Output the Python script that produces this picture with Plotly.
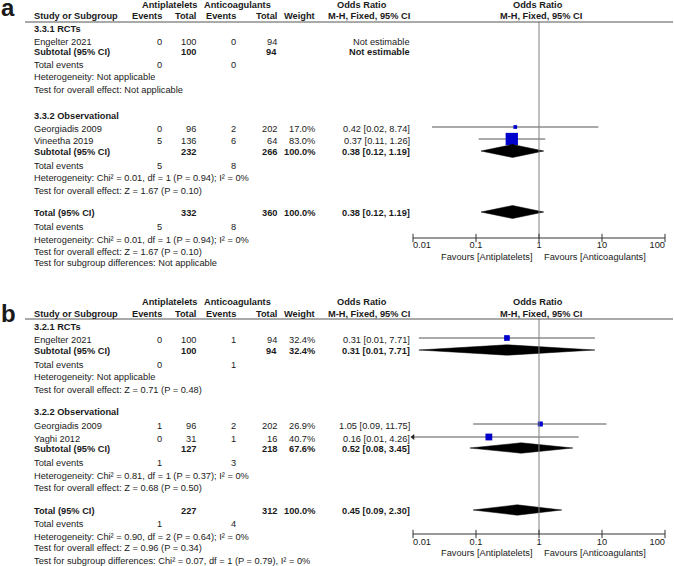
import plotly.graph_objects as go

W, H = 674, 566
FONT = "Liberation Sans, Arial, sans-serif"
TXT = "#1a1a1a"
BLUE = "#0000CC"
FS = 9.25

# ---------------- data: panel a ----------------
a_groups = ["3.3.1 RCTs", "3.3.2 Observational"]
a_studies = ["Engelter 2021", "Georgiadis 2009", "Vineetha 2019"]
a_study_group = [0, 1, 1]
a_ap_events = [0, 0, 5]
a_ap_total = [100, 96, 136]
a_ac_events = [0, 2, 6]
a_ac_total = [94, 202, 64]
a_weight = [None, 17.0, 83.0]
a_or = [None, 0.42, 0.37]
a_or_lo = [None, 0.02, 0.11]
a_or_hi = [None, 8.74, 1.26]
a_sub_ap_events = [0, 5]
a_sub_ap_total = [100, 232]
a_sub_ac_events = [0, 8]
a_sub_ac_total = [94, 266]
a_sub_weight = [None, 100.0]
a_sub_or = [None, 0.38]
a_sub_lo = [None, 0.12]
a_sub_hi = [None, 1.19]
a_sub_het = ["Heterogeneity: Not applicable",
             "Heterogeneity: Chi² = 0.01, df = 1 (P = 0.94); I² = 0%"]
a_sub_test = ["Test for overall effect: Not applicable",
              "Test for overall effect: Z = 1.67 (P = 0.10)"]
a_tot = [5, 332, 8, 360]          # ap events, ap total, ac events, ac total
a_tot_weight = 100.0
a_tot_or = [0.38, 0.12, 1.19]
a_tot_het = "Heterogeneity: Chi² = 0.01, df = 1 (P = 0.94); I² = 0%"
a_tot_test = "Test for overall effect: Z = 1.67 (P = 0.10)"
a_subgroup_test = "Test for subgroup differences: Not applicable"

# ---------------- data: panel b ----------------
b_groups = ["3.2.1 RCTs", "3.2.2 Observational"]
b_studies = ["Engelter 2021", "Georgiadis 2009", "Yaghi 2012"]
b_study_group = [0, 1, 1]
b_ap_events = [0, 1, 0]
b_ap_total = [100, 96, 31]
b_ac_events = [1, 2, 1]
b_ac_total = [94, 202, 16]
b_weight = [32.4, 26.9, 40.7]
b_or = [0.31, 1.05, 0.16]
b_or_lo = [0.0124, 0.09, 0.006]
b_or_hi = [7.71, 11.75, 4.26]
b_sub_ap_events = [0, 1]
b_sub_ap_total = [100, 127]
b_sub_ac_events = [1, 3]
b_sub_ac_total = [94, 218]
b_sub_weight = [32.4, 67.6]
b_sub_or = [0.31, 0.52]
b_sub_lo = [0.0124, 0.08]
b_sub_hi = [7.71, 3.45]
b_sub_het = ["Heterogeneity: Not applicable",
             "Heterogeneity: Chi² = 0.81, df = 1 (P = 0.37); I² = 0%"]
b_sub_test = ["Test for overall effect: Z = 0.71 (P = 0.48)",
              "Test for overall effect: Z = 0.68 (P = 0.50)"]
b_tot = [1, 227, 4, 312]
b_tot_weight = 100.0
b_tot_or = [0.45, 0.09, 2.30]
b_tot_het = "Heterogeneity: Chi² = 0.90, df = 2 (P = 0.64); I² = 0%"
b_tot_test = "Test for overall effect: Z = 0.96 (P = 0.34)"
b_subgroup_test = "Test for subgroup differences: Chi² = 0.07, df = 1 (P = 0.79), I² = 0%"

# ---------------- shared labels ----------------
tick_vals = [0.01, 0.1, 1, 10, 100]
tick_text = ["0.01", "0.1", "1", "10", "100"]
fav_left = "Favours [Antiplatelets]"
fav_right = "Favours [Anticoagulants]"
grp1, grp2, grp3 = "Antiplatelets", "Anticoagulants", "Odds Ratio"
col_heads = ["Study or Subgroup", "Events", "Total", "Events", "Total", "Weight", "M-H, Fixed, 95% CI"]

# ---------------- layout (pixel positions) ----------------
COL = dict(name=33, ap_ev=163, ap_tot=197, ac_ev=237, ac_tot=278, weight=316, orr=411)
POS_A = dict(label=7.5, hdr1=5, hdr2=16, rule=22, titles=[29, 116], studies=[42, 129, 141],
             subs=[51.5, 152], sub_ev=[64.5, 166], sub_het=[77, 178], sub_test=[90, 191],
             tot=213, tot_ev=227, tot_het=240, tot_test=252, tot_sg=263,
             axis=238, ticklab=246, fav=256.5, dh=6.5)
POS_B = dict(label=313, hdr1=302, hdr2=314, rule=319, titles=[327, 412], studies=[340, 426, 439],
             subs=[351, 449], sub_ev=[365, 463], sub_het=[377, 476], sub_test=[390, 488],
             tot=511, tot_ev=524, tot_het=537, tot_test=548, tot_sg=561,
             axis=534, ticklab=542.5, fav=552.5, dh=5.2)

fig = go.Figure()
ann = []
shapes = []


def txt(x, y, s, anchor="left", bold=False, size=FS):
    ann.append(dict(x=x / W, xref="paper", y=y, yref="y",
                    text=f"<b>{s}</b>" if bold else s, showarrow=False,
                    xanchor=anchor, yanchor="middle", borderpad=0,
                    font=dict(family=FONT, size=size, color=TXT)))


def fmt_or(o, lo, hi):
    if o is None:
        return "Not estimable"
    return f"{o:.2f} [{lo:.2f}, {hi:.2f}]"


def fmt_w(w):
    return "" if w is None else f"{w:.1f}%"


def diamond(o, lo, hi, y, h):
    fig.add_trace(go.Scatter(x=[lo, o, hi, o, lo], y=[y, y - h, y, y + h, y],
                             mode="lines", fill="toself", fillcolor="black",
                             line=dict(color="black", width=0.5), cliponaxis=False,
                             hoverinfo="skip"))


def panel(label, P, groups, studies, sgroup, ape, apt, ace, act, wt, orr, lo, hi,
          s_ape, s_apt, s_ace, s_act, s_w, s_or, s_lo, s_hi, s_het, s_test,
          tot, tot_w, tot_or, tot_het, tot_test, sg_test):
    txt(0, P["label"], label, bold=True, size=24)
    # headers
    txt(170, P["hdr1"], grp1, "center", True)
    txt(237.5, P["hdr1"], grp2, "center", True)
    txt(362, P["hdr1"], grp3, "center", True)
    txt(538, P["hdr1"], grp3, "center", True)
    heads_x = [COL["name"], COL["ap_ev"], COL["ap_tot"], COL["ac_ev"], COL["ac_tot"], COL["weight"]]
    for i, hx in enumerate(heads_x):
        txt(hx, P["hdr2"], col_heads[i], "left" if i == 0 else "right", True)
    txt(369, P["hdr2"], col_heads[6], "center", True)
    txt(541, P["hdr2"], col_heads[6], "center", True)
    shapes.append(dict(type="line", xref="paper", yref="y", x0=25 / W, x1=673 / W,
                       y0=P["rule"], y1=P["rule"], line=dict(color="#555", width=1)))
    # studies
    for i, s in enumerate(studies):
        y = P["studies"][i]
        txt(COL["name"], y, s)
        txt(COL["ap_ev"], y, str(ape[i]), "right")
        txt(COL["ap_tot"], y, str(apt[i]), "right")
        txt(COL["ac_ev"], y, str(ace[i]), "right")
        txt(COL["ac_tot"], y, str(act[i]), "right")
        txt(COL["weight"], y, fmt_w(wt[i]), "right")
        txt(COL["orr"], y, fmt_or(orr[i], lo[i], hi[i]), "right")
        if orr[i] is not None:
            ym = y - 2
            fig.add_trace(go.Scatter(x=[max(lo[i], tick_vals[0]), min(hi[i], tick_vals[-1])],
                                     y=[ym, ym], mode="lines",
                                     line=dict(color="#555", width=1), cliponaxis=False,
                                     hoverinfo="skip"))
            if lo[i] < tick_vals[0]:
                fig.add_trace(go.Scatter(x=[tick_vals[0]], y=[ym], mode="markers",
                                         marker=dict(symbol="triangle-left", size=5, color="#222"),
                                         cliponaxis=False, hoverinfo="skip"))
            fig.add_trace(go.Scatter(x=[orr[i]], y=[ym], mode="markers",
                                     marker=dict(symbol="square", size=1.5 + 0.13 * wt[i],
                                                 color=BLUE, line=dict(width=0)),
                                     cliponaxis=False, hoverinfo="skip"))
    # groups
    for g, title in enumerate(groups):
        txt(COL["name"], P["titles"][g], title, bold=True)
        y = P["subs"][g]
        txt(COL["name"], y, "Subtotal (95% CI)", bold=True)
        txt(COL["ap_tot"], y, str(s_apt[g]), "right", True)
        txt(COL["ac_tot"], y, str(s_act[g]), "right", True)
        txt(COL["weight"], y, fmt_w(s_w[g]), "right", True)
        txt(COL["orr"], y, fmt_or(s_or[g], s_lo[g], s_hi[g]), "right", True)
        if s_or[g] is not None:
            diamond(s_or[g], s_lo[g], s_hi[g], y - 1, P["dh"])
        ye = P["sub_ev"][g]
        txt(COL["name"], ye, "Total events")
        txt(COL["ap_ev"], ye, str(s_ape[g]), "right")
        txt(COL["ac_ev"], ye, str(s_ace[g]), "right")
        txt(COL["name"], P["sub_het"][g], s_het[g])
        txt(COL["name"], P["sub_test"][g], s_test[g])
    # total
    y = P["tot"]
    txt(COL["name"], y, "Total (95% CI)", bold=True)
    txt(COL["ap_tot"], y, str(tot[1]), "right", True)
    txt(COL["ac_tot"], y, str(tot[3]), "right", True)
    txt(COL["weight"], y, fmt_w(tot_w), "right", True)
    txt(COL["orr"], y, fmt_or(*tot_or), "right", True)
    diamond(tot_or[0], tot_or[1], tot_or[2], y - 1, P["dh"])
    txt(COL["name"], P["tot_ev"], "Total events")
    txt(COL["ap_ev"], P["tot_ev"], str(tot[0]), "right")
    txt(COL["ac_ev"], P["tot_ev"], str(tot[2]), "right")
    txt(COL["name"], P["tot_het"], tot_het)
    txt(COL["name"], P["tot_test"], tot_test)
    txt(COL["name"], P["tot_sg"], sg_test)
    # null line
    fig.add_trace(go.Scatter(x=[1, 1], y=[P["rule"], P["axis"]], mode="lines",
                             line=dict(color="#808080", width=1), hoverinfo="skip"))
    # axis line + ticks + labels
    fig.add_trace(go.Scatter(x=[tick_vals[0], tick_vals[-1]], y=[P["axis"], P["axis"]],
                             mode="lines", line=dict(color="#333", width=1),
                             cliponaxis=False, hoverinfo="skip"))
    fig.add_trace(go.Scatter(x=tick_vals, y=[P["axis"]] * len(tick_vals), mode="markers",
                             marker=dict(symbol="line-ns", size=6,
                                         line=dict(color="#333", width=1)),
                             cliponaxis=False, hoverinfo="skip"))
    pos = ["middle right"] + ["middle center"] * (len(tick_vals) - 2) + ["middle left"]
    fig.add_trace(go.Scatter(x=tick_vals, y=[P["ticklab"]] * len(tick_vals), mode="text",
                             text=tick_text, textposition=pos,
                             textfont=dict(family=FONT, size=FS, color=TXT),
                             cliponaxis=False, hoverinfo="skip"))
    ann.append(dict(x=0, xref="x", y=P["fav"], yref="y", text=fav_left, showarrow=False,
                    xanchor="right", yanchor="middle", xshift=-5, borderpad=0,
                    font=dict(family=FONT, size=FS, color=TXT)))
    ann.append(dict(x=0, xref="x", y=P["fav"], yref="y", text=fav_right, showarrow=False,
                    xanchor="left", yanchor="middle", xshift=4, borderpad=0,
                    font=dict(family=FONT, size=FS, color=TXT)))


panel("a", POS_A, a_groups, a_studies, a_study_group, a_ap_events, a_ap_total, a_ac_events,
      a_ac_total, a_weight, a_or, a_or_lo, a_or_hi, a_sub_ap_events, a_sub_ap_total,
      a_sub_ac_events, a_sub_ac_total, a_sub_weight, a_sub_or, a_sub_lo, a_sub_hi,
      a_sub_het, a_sub_test, a_tot, a_tot_weight, a_tot_or, a_tot_het, a_tot_test,
      a_subgroup_test)
panel("b", POS_B, b_groups, b_studies, b_study_group, b_ap_events, b_ap_total, b_ac_events,
      b_ac_total, b_weight, b_or, b_or_lo, b_or_hi, b_sub_ap_events, b_sub_ap_total,
      b_sub_ac_events, b_sub_ac_total, b_sub_weight, b_sub_or, b_sub_lo, b_sub_hi,
      b_sub_het, b_sub_test, b_tot, b_tot_weight, b_tot_or, b_tot_het, b_tot_test,
      b_subgroup_test)

fig.update_layout(
    width=W, height=H, margin=dict(l=0, r=0, t=0, b=0),
    paper_bgcolor="white", plot_bgcolor="white", showlegend=False,
    xaxis=dict(type="log", range=[-2, 2], domain=[413 / W, 665 / W], visible=False,
               showgrid=False, zeroline=False),
    yaxis=dict(range=[H, 0], domain=[0, 1], visible=False, showgrid=False, zeroline=False),
    annotations=ann, shapes=shapes,
)

fig.write_html("out.html", config={"displayModeBar": False},
               post_script="document.body.style.margin='0';document.body.style.overflow='hidden';")
